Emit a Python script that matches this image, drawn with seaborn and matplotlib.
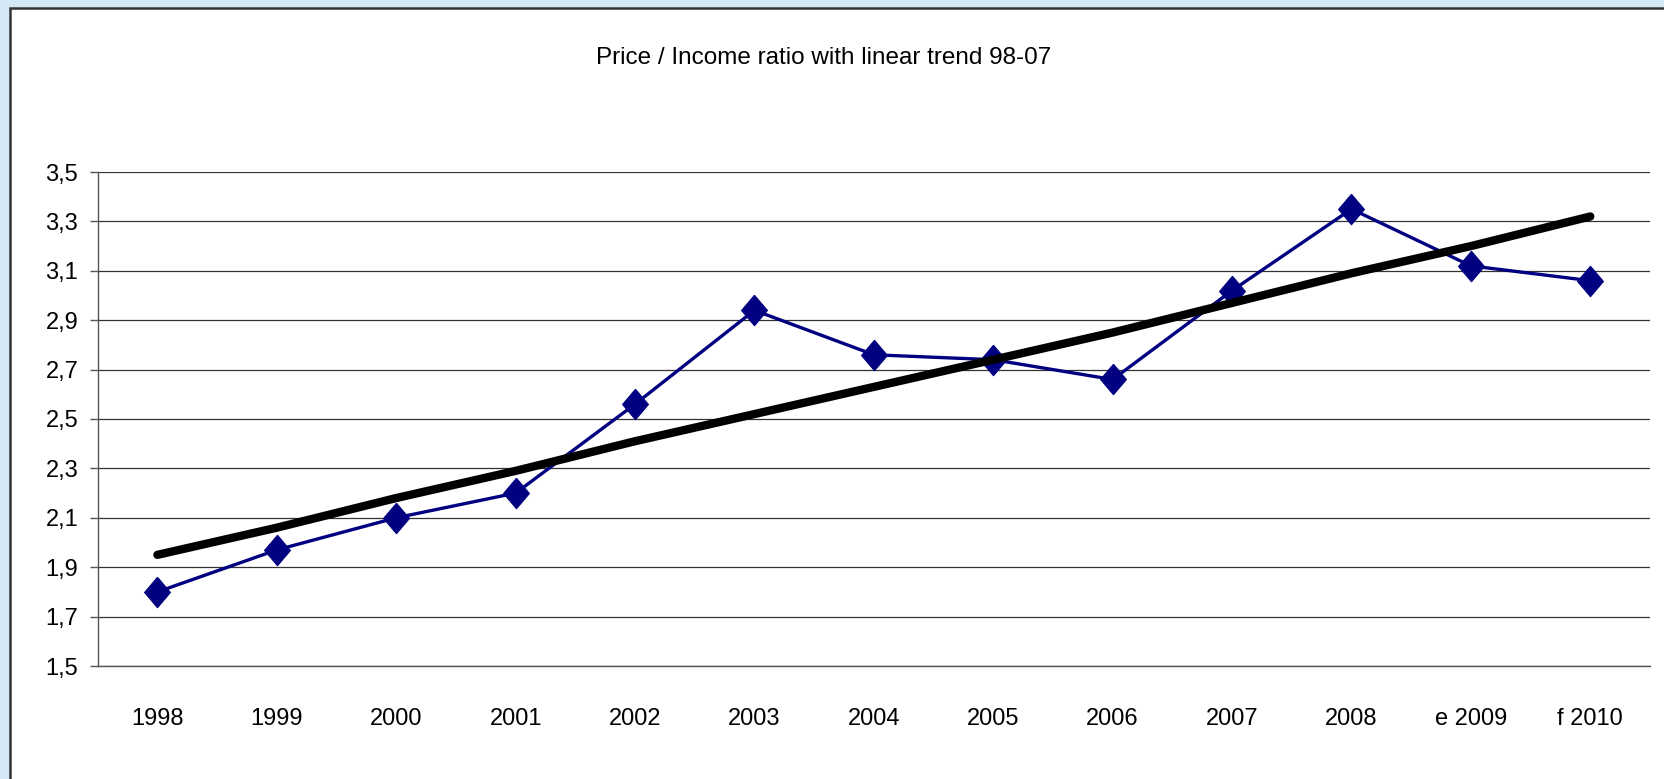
import numpy as np
import pandas as pd
import matplotlib
matplotlib.use('Agg')
import matplotlib.pyplot as plt
import matplotlib.patches as mpatches
from matplotlib.ticker import FixedLocator, FuncFormatter
import seaborn as sns

# values
years = ['1998', '1999', '2000', '2001', '2002', '2003', '2004',
         '2005', '2006', '2007', '2008', 'e 2009', 'f 2010']
ratio = [1.80, 1.97, 2.10, 2.20, 2.56, 2.94, 2.76,
         2.74, 2.66, 3.02, 3.35, 3.12, 3.06]
trend = [1.95, 2.06, 2.18, 2.29, 2.41, 2.52, 2.63,
         2.74, 2.85, 2.97, 3.09, 3.20, 3.32]
y_ticks = [1.5, 1.7, 1.9, 2.1, 2.3, 2.5, 2.7, 2.9, 3.1, 3.3, 3.5]

df = pd.DataFrame({'year': years, 'ratio': ratio, 'trend': trend})

sns.set_style('white')
plt.rcParams['font.family'] = ['Liberation Sans', 'DejaVu Sans']
plt.rcParams['text.color'] = 'black'
plt.rcParams['xtick.labelcolor'] = 'black'
plt.rcParams['ytick.labelcolor'] = 'black'

fig = plt.figure(figsize=(16.64, 7.79), dpi=100)
fig.patch.set_facecolor('#d4e9f5')

# white chart area with dark border (cut off at right/bottom)
box = mpatches.Rectangle((10 / 1664, -0.1), 1.2, (779 - 8) / 779 + 0.1,
                         transform=fig.transFigure, facecolor='white',
                         edgecolor='#333333', linewidth=1.8, zorder=-1)
fig.patches.append(box)

ax = fig.add_axes([97.7 / 1664, 1 - 666 / 779, (1650 - 97.7) / 1664, (666 - 172) / 779])
ax.set_facecolor('white')

diamond = [(0, 1), (0.85, 0), (0, -1), (-0.85, 0), (0, 1)]

sns.lineplot(data=df, x='year', y='ratio', sort=False, ax=ax,
             color='#000080', linewidth=2.4, marker=diamond, markersize=22,
             markeredgecolor='#000080', markerfacecolor='#000080', zorder=3)
sns.lineplot(data=df, x='year', y='trend', sort=False, ax=ax,
             color='black', linewidth=6, solid_capstyle='round', zorder=4)

ax.set_xlim(-0.5, len(years) - 0.5)
ax.set_ylim(1.5, 3.5)
ax.set_yticks(y_ticks)
ax.yaxis.set_major_formatter(FuncFormatter(lambda v, p: f'{v:.1f}'.replace('.', ',')))
ax.grid(axis='y', color='#333333', linewidth=0.9)
ax.grid(axis='x', visible=False)

ax.xaxis.set_minor_locator(FixedLocator(np.arange(-0.5, len(years), 1.0)))
ax.tick_params(axis='x', which='major', length=0, pad=30, labelsize=17, labelcolor='black')
ax.tick_params(axis='x', which='minor', length=6, width=1, color='#555555', direction='out')
ax.tick_params(axis='y', which='major', length=6, width=1, color='#555555',
               direction='out', pad=8, labelsize=17, left=True, labelcolor='black')

for s in ['top', 'right']:
    ax.spines[s].set_visible(False)
for s in ['left', 'bottom']:
    ax.spines[s].set_color('#555555')
    ax.spines[s].set_linewidth(1)

ax.set_xlabel('')
ax.set_ylabel('')

fig.text(824 / 1664, 1 - 58 / 779, 'Price / Income ratio with linear trend 98-07',
         ha='center', va='center', fontsize=17.5, color='black')

fig.savefig('out.png', dpi=100, facecolor=fig.get_facecolor())
